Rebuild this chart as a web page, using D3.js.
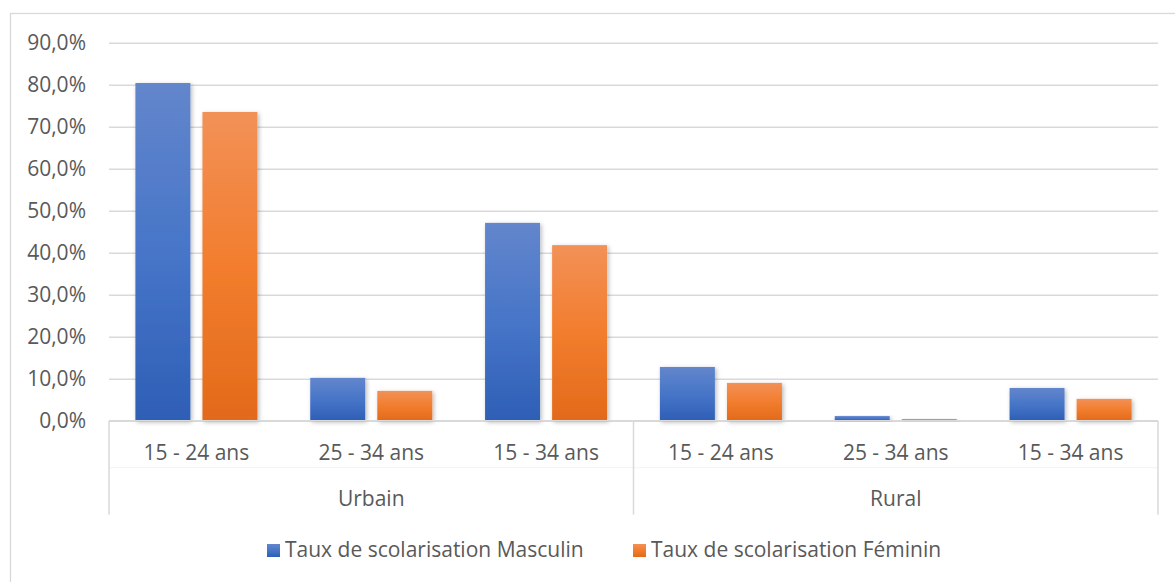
<!DOCTYPE html>
<html>
<head>
<meta charset="utf-8">
<script src="https://cdn.jsdelivr.net/npm/d3@7"></script>
<style>
  body { margin: 0; background: #fff; }
  text { font-family: "Open Sans", sans-serif; fill: #595959; }
</style>
</head>
<body>
<div id="chart"></div>
<script>
// data
var groups = ["Urbain", "Rural"];
var ages = ["15 - 24 ans", "25 - 34 ans", "15 - 34 ans"];
var series = ["Taux de scolarisation Masculin", "Taux de scolarisation Féminin"];
var masculin = [80.4, 10.2, 47.1, 12.8, 1.1, 7.8];
var feminin = [73.5, 7.1, 41.8, 9.0, 0.4, 5.2];
var yTicks = [0, 10, 20, 30, 40, 50, 60, 70, 80, 90];

var width = 1175, height = 582;
var margin = {top: 42.7, left: 109, right: 1175 - 1158, bottom: 582 - 420.7};
var plotW = width - margin.left - margin.right;
var plotH = height - margin.top - margin.bottom;
var fontSize = "21px";

// rows: one per group/age pair
var rows = [];
groups.forEach(function(g, gi) {
  ages.forEach(function(a, ai) {
    var i = gi * ages.length + ai;
    rows.push({key: g + "|" + a, group: g, age: a, values: [masculin[i], feminin[i]]});
  });
});

var svg = d3.select("#chart").append("svg")
  .attr("width", width)
  .attr("height", height);

svg.append("rect").attr("width", width).attr("height", height).attr("fill", "#fff");

// chart area border (runs off the right and bottom)
svg.append("rect")
  .attr("x", 10.5).attr("y", 13.5)
  .attr("width", width + 20).attr("height", height + 20)
  .attr("fill", "none").attr("stroke", "#d9d9d9").attr("stroke-width", 1.3);

var defs = svg.append("defs");
var colors = [
  ["#6386cc", "#4775c8", "#2e5fb6"],
  ["#f29157", "#f27d2e", "#e26a1a"]
];
colors.forEach(function(c, i) {
  var gr = defs.append("linearGradient").attr("id", "grad" + i)
    .attr("x1", 0).attr("y1", 0).attr("x2", 0).attr("y2", 1);
  gr.append("stop").attr("offset", "0%").attr("stop-color", c[0]);
  gr.append("stop").attr("offset", "50%").attr("stop-color", c[1]);
  gr.append("stop").attr("offset", "100%").attr("stop-color", c[2]);
});
var f = defs.append("filter").attr("id", "shadow")
  .attr("x", "-20%").attr("y", "-20%").attr("width", "140%").attr("height", "140%");
f.append("feDropShadow").attr("dx", 1.5).attr("dy", 1.5).attr("stdDeviation", 2)
  .attr("flood-color", "#000").attr("flood-opacity", 0.28);

var g = svg.append("g")
  .attr("transform", "translate(" + margin.left + "," + margin.top + ")");

var y = d3.scaleLinear().domain([0, 90]).range([plotH, 0]);

var x0 = d3.scaleBand()
  .domain(rows.map(function(d) { return d.key; }))
  .range([0, plotW])
  .paddingInner(0.302)
  .paddingOuter(0.151);

var x1 = d3.scaleBand()
  .domain([0, 1])
  .range([0, x0.bandwidth()])
  .paddingInner(0.18);

// gridlines
g.append("g")
  .call(d3.axisLeft(y).tickValues(yTicks).tickSize(-plotW).tickFormat(""))
  .call(function(s) {
    s.select(".domain").remove();
    s.selectAll("line").attr("stroke", "#d9d9d9").attr("stroke-width", 1.5);
  });

// y labels
g.append("g")
  .call(d3.axisLeft(y).tickValues(yTicks).tickSize(0).tickPadding(23)
    .tickFormat(function(d) { return d.toFixed(1).replace(".", ",") + "%"; }))
  .call(function(s) {
    s.select(".domain").remove();
    s.selectAll("text").style("font-size", fontSize).attr("fill", "#595959")
      .style("font-family", "'Open Sans', sans-serif");
  });

// bars
var cat = g.selectAll("g.cat")
  .data(rows)
  .enter().append("g")
  .attr("class", "cat")
  .attr("transform", function(d) { return "translate(" + x0(d.key) + ",0)"; });

cat.selectAll("rect")
  .data(function(d) { return d.values.map(function(v, i) { return {i: i, v: v}; }); })
  .enter().append("rect")
  .attr("x", function(d) { return x1(d.i); })
  .attr("width", x1.bandwidth())
  .attr("y", function(d) { return y(d.v); })
  .attr("height", function(d) { return plotH - y(d.v); })
  .attr("fill", function(d) { return "url(#grad" + d.i + ")"; })
  .attr("filter", "url(#shadow)");

// category axis (two levels)
var step = x0.step();
var axisG = g.append("g").attr("transform", "translate(0," + plotH + ")");

axisG.append("line")
  .attr("x1", 0).attr("x2", plotW).attr("y1", 0).attr("y2", 0)
  .attr("stroke", "#d9d9d9").attr("stroke-width", 1.5);

axisG.append("line")
  .attr("x1", 0).attr("x2", plotW).attr("y1", 47).attr("y2", 47)
  .attr("stroke", "#f3f3f3").attr("stroke-width", 1);

var groupEdges = d3.range(groups.length + 1).map(function(i) { return i * ages.length * step; });
axisG.selectAll("line.sep")
  .data(groupEdges)
  .enter().append("line")
  .attr("class", "sep")
  .attr("x1", function(d) { return d; }).attr("x2", function(d) { return d; })
  .attr("y1", 0).attr("y2", 94)
  .attr("stroke", "#d9d9d9").attr("stroke-width", 1.5);

axisG.selectAll("text.age")
  .data(rows)
  .enter().append("text")
  .attr("class", "age")
  .attr("x", function(d) { return x0(d.key) + x0.bandwidth() / 2; })
  .attr("y", 32)
  .attr("dy", "0.35em")
  .attr("text-anchor", "middle")
  .style("font-size", fontSize)
  .text(function(d) { return d.age; });

axisG.selectAll("text.grp")
  .data(groups)
  .enter().append("text")
  .attr("class", "grp")
  .attr("x", function(d, i) { return (groupEdges[i] + groupEdges[i + 1]) / 2; })
  .attr("y", 78)
  .attr("dy", "0.35em")
  .attr("text-anchor", "middle")
  .style("font-size", fontSize)
  .text(function(d) { return d; });

// legend
var legendX = [267, 633];
var legend = svg.selectAll("g.legend")
  .data(series)
  .enter().append("g")
  .attr("class", "legend")
  .attr("transform", function(d, i) { return "translate(" + legendX[i] + ",550)"; });

legend.append("rect")
  .attr("x", 0).attr("y", -6)
  .attr("width", 13).attr("height", 13)
  .attr("fill", function(d, i) { return "url(#grad" + i + ")"; });

legend.append("text")
  .attr("x", 18)
  .attr("y", 0)
  .attr("dy", "0.35em")
  .style("font-size", fontSize)
  .text(function(d) { return d; });
</script>
</body>
</html>
